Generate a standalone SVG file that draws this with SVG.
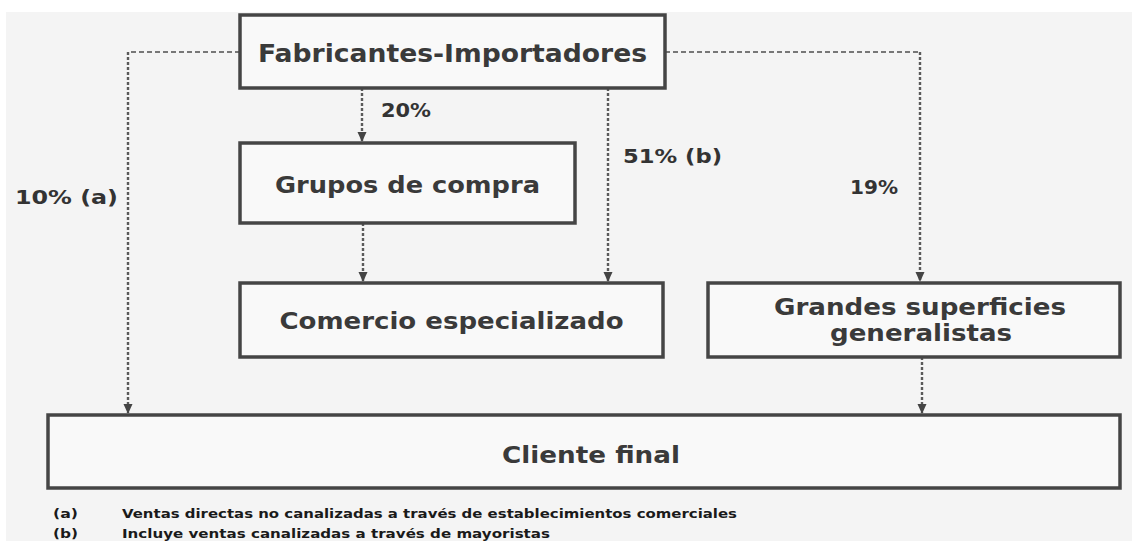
<svg xmlns="http://www.w3.org/2000/svg" width="1132" height="541" viewBox="0 0 1132 541">
<defs>
<marker id="ahd" markerWidth="12" markerHeight="12" refX="9" refY="6" orient="auto" markerUnits="userSpaceOnUse" viewBox="0 0 12 12">
<path d="M0,1.5 L10,6 L0,10.5 Z" fill="#444"/>
</marker>
</defs>
<style>
.box{fill:#f9f9f9;stroke:#454545;stroke-width:3.5}
.t{font-family:"DejaVu Sans",Verdana,sans-serif;font-weight:bold;fill:#3a3a3a;text-anchor:middle}
.lbl{font-family:"DejaVu Sans",Verdana,sans-serif;font-weight:bold;fill:#333;font-size:19.5px}
.fn{font-family:"DejaVu Sans",Verdana,sans-serif;font-weight:bold;fill:#1a1a1a;font-size:13px}
.h{fill:none;stroke:#777;stroke-width:2;stroke-dasharray:5 3}
.v{fill:none;stroke:#5a5a5a;stroke-width:2.4;stroke-dasharray:3 2}
</style>
<rect x="0" y="0" width="1132" height="541" fill="#ffffff"/>
<rect x="6" y="12" width="1126" height="529" fill="#f4f4f4"/>
<g id="connectors">
<path class="h" d="M240,52 H128"/>
<path class="v" d="M128,52 V413" marker-end="url(#ahd)"/>
<path class="h" d="M665,52 H920"/>
<path class="v" d="M920,52 V281" marker-end="url(#ahd)"/>
<path class="v" d="M362,88 V141" marker-end="url(#ahd)"/>
<path class="v" d="M608,88 V281" marker-end="url(#ahd)"/>
<path class="v" d="M363,223 V281" marker-end="url(#ahd)"/>
<path class="v" d="M922,357 V413" marker-end="url(#ahd)"/>
<text class="lbl" x="381" y="117" textLength="50" lengthAdjust="spacingAndGlyphs">20%</text>
<text class="lbl" x="623" y="163" textLength="99" lengthAdjust="spacingAndGlyphs">51% (b)</text>
<text class="lbl" x="15" y="204" textLength="103" lengthAdjust="spacingAndGlyphs">10% (a)</text>
<text class="lbl" x="850" y="194" textLength="48" lengthAdjust="spacingAndGlyphs">19%</text>
</g>
<g id="fabricantes">
<rect class="box" x="240" y="15" width="425" height="73"/>
<text class="t" x="452.5" y="62" font-size="24" textLength="389" lengthAdjust="spacingAndGlyphs">Fabricantes-Importadores</text>
</g>
<g id="grupos">
<rect class="box" x="240" y="143" width="335" height="80"/>
<text class="t" x="407.5" y="193" font-size="23.5" textLength="265" lengthAdjust="spacingAndGlyphs">Grupos de compra</text>
</g>
<g id="comercio">
<rect class="box" x="240" y="283" width="423" height="74"/>
<text class="t" x="451.5" y="329" font-size="23.5" textLength="344" lengthAdjust="spacingAndGlyphs">Comercio especializado</text>
</g>
<g id="grandes">
<rect class="box" x="708" y="283" width="412" height="74"/>
<text class="t" x="920" y="315" font-size="23.5" textLength="292" lengthAdjust="spacingAndGlyphs">Grandes superficies</text>
<text class="t" x="921" y="341" font-size="23.5" textLength="182" lengthAdjust="spacingAndGlyphs">generalistas</text>
</g>
<g id="cliente">
<rect class="box" x="48" y="415" width="1072" height="73"/>
<text class="t" x="591" y="463" font-size="23.5" textLength="178" lengthAdjust="spacingAndGlyphs">Cliente final</text>
</g>
<g id="notes">
<text class="fn" x="53" y="518" textLength="25" lengthAdjust="spacingAndGlyphs">(a)</text>
<text class="fn" x="122" y="518" textLength="615" lengthAdjust="spacingAndGlyphs">Ventas directas no canalizadas a través de establecimientos comerciales</text>
<text class="fn" x="53" y="538" textLength="25" lengthAdjust="spacingAndGlyphs">(b)</text>
<text class="fn" x="122" y="538" textLength="428" lengthAdjust="spacingAndGlyphs">Incluye ventas canalizadas a través de mayoristas</text>
</g>
</svg>
